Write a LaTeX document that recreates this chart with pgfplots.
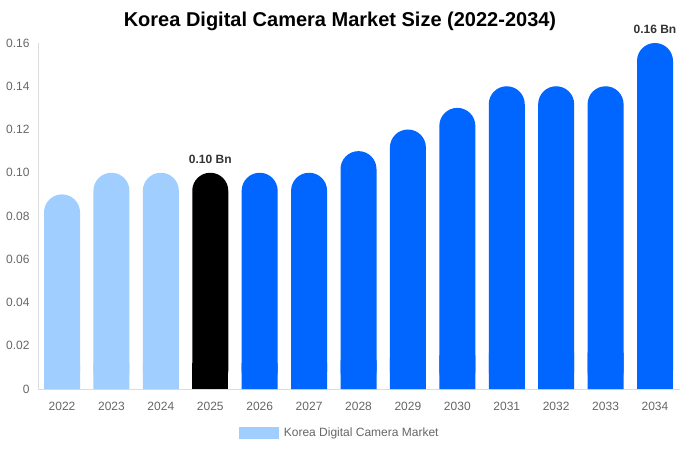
\documentclass[border=0pt]{standalone}
\usepackage{pgfplots}
\usepackage{pgfplotstable}
\pgfplotsset{compat=1.18}
\usepackage{fontspec}
\setmainfont{Liberation Sans}
\definecolor{lightbar}{RGB}{160,206,255}
\definecolor{bluebar}{RGB}{0,102,255}
\definecolor{ticktext}{RGB}{102,102,102}
\definecolor{axisgray}{RGB}{220,220,220}
\pgfplotstableread{
x y
0 0.09
1 0.10
2 0.10
}\lighttab
\pgfplotstableread{
x y
3 0.10
}\blacktab
\pgfplotstableread{
x y
4 0.10
5 0.10
6 0.11
7 0.12
8 0.13
9 0.14
10 0.14
11 0.14
}\bluetab
\pgfplotstableread{
x y
12 0.16
}\lasttab
\begin{document}
\begin{tikzpicture}
\useasboundingbox (-38pt,-61pt) rectangle (642pt,389pt);
\begin{axis}[
  at={(0pt,0pt)}, anchor=south west,
  scale only axis, width=642pt, height=346pt,
  xmin=-0.486, xmax=12.506, ymin=0, ymax=0.16,
  clip=false,
  ybar, bar width=36pt, bar shift=0pt,
  axis x line=bottom, axis y line=left,
  axis line style={draw=axisgray, -},
  major tick length=0pt,
  xtick={0,...,12},
  xticklabels={2022,2023,2024,2025,2026,2027,2028,2029,2030,2031,2032,2033,2034},
  ytick={0,0.02,0.04,0.06,0.08,0.10,0.12,0.14,0.16},
  yticklabels={0,0.02,0.04,0.06,0.08,0.10,0.12,0.14,0.16},
  tick label style={font=\fontsize{12}{14}\selectfont, text=ticktext},
  xticklabel style={yshift=-10pt},
  yticklabel style={xshift=-5pt},
  /pgf/number format/assume math mode=true,
  legend style={at={(0.470,-0.127)}, anchor=center, draw=none, fill=none,
    font=\fontsize{12}{14}\selectfont, text=ticktext,
    /tikz/every odd column/.append style={column sep=3pt}},
  legend image code/.code={\fill[lightbar, sharp corners] (-6pt,-6pt) rectangle (34pt,6pt);},
  nodes near coords style={font=\bfseries\fontsize{12}{14}\selectfont, text={rgb,255:red,51;green,51;blue,51}, yshift=6pt},
]
\addplot[fill=lightbar, draw=none, forget plot] table[x=x,y expr=\thisrow{y}*0.12] {\lighttab};
\addplot[fill=black, draw=none, forget plot] table[x=x,y expr=\thisrow{y}*0.12] {\blacktab};
\addplot[fill=bluebar, draw=none, forget plot] table[x=x,y expr=\thisrow{y}*0.12] {\bluetab};
\addplot[fill=bluebar, draw=none, forget plot] table[x=x,y expr=\thisrow{y}*0.12] {\lasttab};
\addplot[fill=lightbar, draw=none, rounded corners=18pt] table[x=x,y=y] {\lighttab};
\addlegendentry{Korea Digital Camera Market}
\addplot[fill=black, draw=none, rounded corners=18pt, forget plot,
  nodes near coords={\pgfmathprintnumber[fixed,fixed zerofill,precision=2,assume math mode=true]{\pgfplotspointmeta} Bn}] table[x=x,y=y] {\blacktab};
\addplot[fill=bluebar, draw=none, rounded corners=18pt, forget plot] table[x=x,y=y] {\bluetab};
\addplot[fill=bluebar, draw=none, rounded corners=18pt, forget plot,
  nodes near coords={\pgfmathprintnumber[fixed,fixed zerofill,precision=2,assume math mode=true]{\pgfplotspointmeta} Bn}] table[x=x,y=y] {\lasttab};
\end{axis}
\node[font=\bfseries\fontsize{20}{24}\selectfont] at (302pt,368pt) {Korea Digital Camera Market Size (2022-2034)};
\end{tikzpicture}
\end{document}
